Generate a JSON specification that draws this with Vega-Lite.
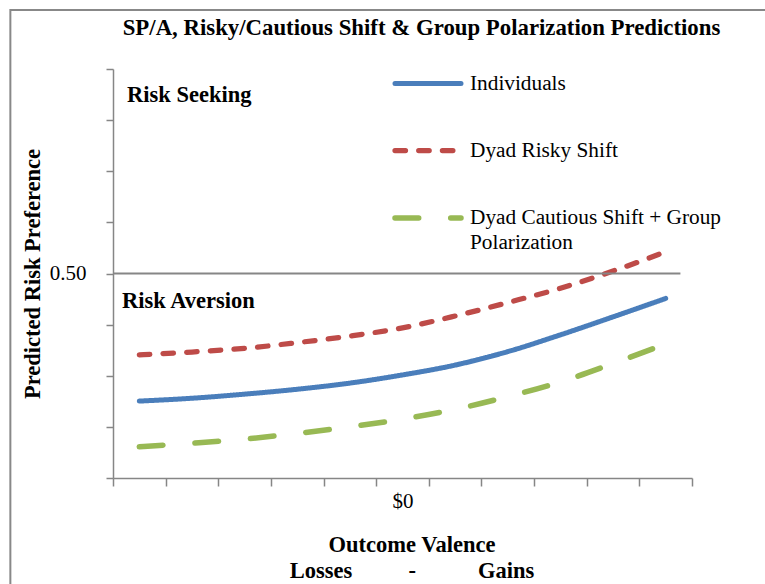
{
  "$schema": "https://vega.github.io/schema/vega-lite/v6.json",
  "width": 579,
  "height": 409,
  "autosize": {"type": "none"},
  "padding": {"left": 113, "top": 69, "right": 73, "bottom": 106},
  "background": "white",
  "title": {
    "text": "SP/A, Risky/Cautious Shift & Group Polarization Predictions",
    "font": "Liberation Serif",
    "fontSize": 22.8,
    "fontWeight": "bold",
    "color": "black",
    "anchor": "middle",
    "dx": 19,
    "offset": -31
  },
  "config": {"view": {"stroke": null}, "font": "Liberation Serif"},
  "datasets": {
    "frame": [{"x": -1.95, "x2": 12.5, "y": 1.144, "y2": -0.3}],
    "ref": [{"x": 0, "x2": 10.78, "y": 0.5}],
    "notes": [
      {"x": 0.266, "y": 0.919, "text": "Risk Seeking"},
      {"x": 0.171, "y": 0.4156, "text": "Risk Aversion"}
    ],
    "lines": [
      {"series": "Individuals", "x": 0.5, "y": 0.188},
      {"series": "Individuals", "x": 1.5, "y": 0.195},
      {"series": "Individuals", "x": 2.5, "y": 0.205},
      {"series": "Individuals", "x": 3.5, "y": 0.217},
      {"series": "Individuals", "x": 4.5, "y": 0.232},
      {"series": "Individuals", "x": 5.5, "y": 0.252},
      {"series": "Individuals", "x": 6.5, "y": 0.276},
      {"series": "Individuals", "x": 7.5, "y": 0.309},
      {"series": "Individuals", "x": 8.5, "y": 0.350},
      {"series": "Individuals", "x": 9.5, "y": 0.394},
      {"series": "Individuals", "x": 10.5, "y": 0.439},
      {"series": "Dyad Risky Shift", "x": 0.5, "y": 0.301},
      {"series": "Dyad Risky Shift", "x": 1.5, "y": 0.308},
      {"series": "Dyad Risky Shift", "x": 2.5, "y": 0.317},
      {"series": "Dyad Risky Shift", "x": 3.5, "y": 0.331},
      {"series": "Dyad Risky Shift", "x": 4.5, "y": 0.347},
      {"series": "Dyad Risky Shift", "x": 5.5, "y": 0.367},
      {"series": "Dyad Risky Shift", "x": 6.5, "y": 0.396},
      {"series": "Dyad Risky Shift", "x": 7.5, "y": 0.429},
      {"series": "Dyad Risky Shift", "x": 8.5, "y": 0.464},
      {"series": "Dyad Risky Shift", "x": 9.5, "y": 0.506},
      {"series": "Dyad Risky Shift", "x": 10.5, "y": 0.553},
      {"series": "Dyad Cautious Shift + Group Polarization", "x": 0.5, "y": 0.0765},
      {"series": "Dyad Cautious Shift + Group Polarization", "x": 1.5, "y": 0.085},
      {"series": "Dyad Cautious Shift + Group Polarization", "x": 2.5, "y": 0.095},
      {"series": "Dyad Cautious Shift + Group Polarization", "x": 3.5, "y": 0.109},
      {"series": "Dyad Cautious Shift + Group Polarization", "x": 4.5, "y": 0.125},
      {"series": "Dyad Cautious Shift + Group Polarization", "x": 5.5, "y": 0.144},
      {"series": "Dyad Cautious Shift + Group Polarization", "x": 6.5, "y": 0.168},
      {"series": "Dyad Cautious Shift + Group Polarization", "x": 7.5, "y": 0.199},
      {"series": "Dyad Cautious Shift + Group Polarization", "x": 8.5, "y": 0.235},
      {"series": "Dyad Cautious Shift + Group Polarization", "x": 9.5, "y": 0.280},
      {"series": "Dyad Cautious Shift + Group Polarization", "x": 10.5, "y": 0.328}
    ]
  },
  "layer": [
    {
      "data": {"name": "lines"},
      "mark": {"type": "line", "interpolate": "monotone", "strokeCap": "round", "strokeJoin": "round"},
      "encoding": {
        "x": {
          "field": "x", "type": "quantitative",
          "scale": {"domain": [0, 11], "nice": false, "zero": false},
          "axis": {
            "values": [0, 1, 2, 3, 4, 5, 6, 7, 8, 9, 10, 11],
            "labelExpr": "datum.value == 5 ? '$0' : ''",
            "labelOffset": 26.3,
            "labelFont": "Liberation Serif",
            "labelFontSize": 21,
            "labelColor": "black",
            "labelPadding": 4,
            "tickSize": 8,
            "tickWidth": 1.5,
            "tickColor": "#868686",
            "domainColor": "#868686",
            "domainWidth": 1.5,
            "grid": false,
            "title": ["Outcome Valence", "Losses\u00a0\u00a0\u00a0\u00a0\u00a0\u00a0\u00a0\u00a0\u00a0\u00a0-\u00a0\u00a0\u00a0\u00a0\u00a0\u00a0\u00a0\u00a0\u00a0\u00a0\u00a0Gains"],
            "titleFont": "Liberation Serif",
            "titleFontSize": 22.5,
            "titleFontWeight": "bold",
            "titleColor": "black",
            "titleLineHeight": 26,
            "titlePadding": 22,
            "titleX": 298.5
          }
        },
        "y": {
          "field": "y", "type": "quantitative",
          "scale": {"domain": [0, 1], "nice": false, "zero": false},
          "axis": {
            "values": [0, 0.125, 0.25, 0.375, 0.5, 0.625, 0.75, 0.875, 1],
            "labelExpr": "datum.value == 0.5 ? '0.50' : ''",
            "labelFont": "Liberation Serif",
            "labelFontSize": 21,
            "labelColor": "black",
            "labelPadding": 20,
            "tickSize": 7,
            "tickWidth": 1.5,
            "tickColor": "#868686",
            "domainColor": "#868686",
            "domainWidth": 1.5,
            "grid": false,
            "title": "Predicted Risk Preference",
            "titleFont": "Liberation Serif",
            "titleFontSize": 22.5,
            "titleFontWeight": "bold",
            "titleColor": "black",
            "titlePadding": 5
          }
        },
        "color": {
          "field": "series", "type": "nominal",
          "scale": {
            "domain": ["Individuals", "Dyad Risky Shift", "Dyad Cautious Shift + Group Polarization"],
            "range": ["#4A7EBB", "#BE4B48", "#98B954"]
          },
          "legend": {
            "orient": "none",
            "legendX": 279,
            "legendY": -21,
            "title": null,
            "padding": 0,
            "symbolType": "stroke",
            "symbolSize": 4356,
            "labelFont": "Liberation Serif",
            "labelFontSize": 21.3,
            "labelColor": "black",
            "labelOffset": 6,
            "labelLimit": 400,
            "rowPadding": 20.5,
            "labelExpr": "datum.label == 'Dyad Cautious Shift + Group Polarization' ? ['Dyad Cautious Shift + Group', 'Polarization'] : datum.label",
            "encode": {
              "symbols": {"update": {"strokeCap": {"value": "round"}}},
              "labels": {"update": {"lineHeight": {"value": 25}}}
            }
          }
        },
        "strokeDash": {
          "field": "series", "type": "nominal",
          "scale": {
            "domain": ["Individuals", "Dyad Risky Shift", "Dyad Cautious Shift + Group Polarization"],
            "range": [[1, 0], [10.5, 13.2], [23.7, 32]]
          }
        },
        "strokeWidth": {
          "field": "series", "type": "nominal",
          "scale": {
            "domain": ["Individuals", "Dyad Risky Shift", "Dyad Cautious Shift + Group Polarization"],
            "range": [5, 5.5, 7]
          }
        }
      }
    },
    {
      "data": {"name": "frame"},
      "mark": {"type": "rect", "fill": null, "stroke": "#888888", "strokeWidth": 2, "clip": false},
      "encoding": {
        "x": {"field": "x", "type": "quantitative", "scale": {"domain": [0, 11], "nice": false, "zero": false}},
        "x2": {"field": "x2"},
        "y": {"field": "y", "type": "quantitative", "scale": {"domain": [0, 1], "nice": false, "zero": false}},
        "y2": {"field": "y2"}
      }
    },
    {
      "data": {"name": "ref"},
      "mark": {"type": "rule", "color": "#868686", "strokeWidth": 2},
      "encoding": {
        "x": {"field": "x", "type": "quantitative"},
        "x2": {"field": "x2"},
        "y": {"field": "y", "type": "quantitative"}
      }
    },
    {
      "data": {"name": "notes"},
      "mark": {"type": "text", "align": "left", "baseline": "alphabetic", "font": "Liberation Serif", "fontSize": 22.5, "fontWeight": "bold", "color": "black"},
      "encoding": {
        "x": {"field": "x", "type": "quantitative"},
        "y": {"field": "y", "type": "quantitative"},
        "text": {"field": "text"}
      }
    }
  ]
}
